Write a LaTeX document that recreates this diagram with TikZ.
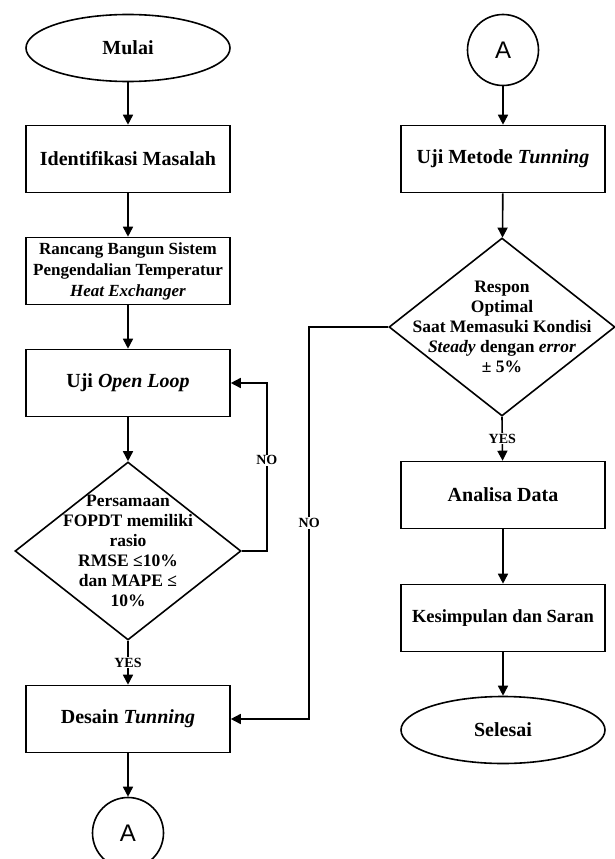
\documentclass[tikz,border=0pt]{standalone}
\usepackage{fontspec}
\setmainfont{Liberation Serif}
\newfontfamily\connfont{Liberation Sans}
\usetikzlibrary{shapes.geometric,arrows.meta}

\tikzset{
    process/.style={draw, line width=1.6pt, minimum width=204pt, minimum height=67pt,
        inner sep=0pt, align=center, font=\bfseries\fontsize{20}{24}\selectfont},
    smallproc/.style={process, font=\bfseries\fontsize{17}{21}\selectfont},
    terminal/.style={ellipse, draw, line width=1.6pt, minimum width=204pt, minimum height=67pt,
        inner sep=0pt, font=\bfseries\fontsize{20}{24}\selectfont},
    decision/.style={diamond, draw, line width=1.6pt, minimum width=226pt, minimum height=178pt,
        inner sep=0pt},
    dtext/.style={align=center, inner sep=0pt, font=\bfseries\fontsize{17.5}{20}\selectfont},
    offpage/.style={circle, draw, line width=1.6pt, minimum size=71pt, inner sep=0pt,
        font=\connfont\fontsize{24}{24}\selectfont},
    flow/.style={line width=1.6pt, -{Triangle[length=10pt,width=10pt]}},
    answer/.style={fill=white, inner sep=1pt, font=\bfseries\fontsize{14}{14}\selectfont}
}

\begin{document}
\begin{tikzpicture}[x=1pt, y=-1pt]
    \useasboundingbox (0,0) rectangle (615,859);

    % Left column
    \node[terminal] (mulai) at (128,48) {Mulai};
    \node[process] (identifikasi) at (128,159) {Identifikasi Masalah};
    \node[smallproc] (rancang) at (128,271) {Rancang Bangun Sistem\\Pengendalian Temperatur\\\textit{Heat Exchanger}};
    \node[process] (openloop) at (128,383) {Uji \textit{Open Loop}};
    \node[decision, label={[dtext]center:{Persamaan\\FOPDT memiliki\\rasio\\RMSE ≤10\%\\dan MAPE ≤\\10\%}}] (fopdt) at (128,551) {};
    \node[process] (desain) at (128,719) {Desain \textit{Tunning}};
    \node[offpage] (pageA) at (128,833) {A};

    % Right column
    \node[offpage] (pageB) at (503,50) {A};
    \node[process] (metode) at (503,159) {Uji Metode \textit{Tunning}};
    \node[decision, label={[dtext]center:{Respon\\Optimal\\Saat Memasuki Kondisi\\\textit{Steady} dengan \textit{error}\\± 5\%}}] (respon) at (502,327) {};
    \node[process] (analisa) at (503,495) {Analisa Data};
    \node[process, font=\bfseries\fontsize{18.5}{22}\selectfont] (kesimpulan) at (503,618) {Kesimpulan dan Saran};
    \node[terminal] (selesai) at (503,730) {Selesai};

    % Draw arrows
    \draw[flow] (mulai) -- (identifikasi);
    \draw[flow] (identifikasi) -- (rancang);
    \draw[flow] (rancang) -- (openloop);
    \draw[flow] (openloop) -- (fopdt);
    \draw[flow] (fopdt.south) -- node[answer] {YES} (desain);
    \draw[flow] (fopdt.east) -- ++(25,0) |- node[answer, pos=0.27] {NO} (openloop.east);
    \draw[flow] (desain) -- (pageA);

    \draw[flow] (pageB) -- (metode);
    \draw[flow] (metode) -- (respon);
    \draw[flow] (respon.south) -- node[answer] {YES} (analisa);
    \draw[flow] (respon.west) -- ++(-79,0) |- node[answer, pos=0.25] {NO} (desain.east);
    \draw[flow] (analisa) -- (kesimpulan);
    \draw[flow] (kesimpulan) -- (selesai);
\end{tikzpicture}
\end{document}
